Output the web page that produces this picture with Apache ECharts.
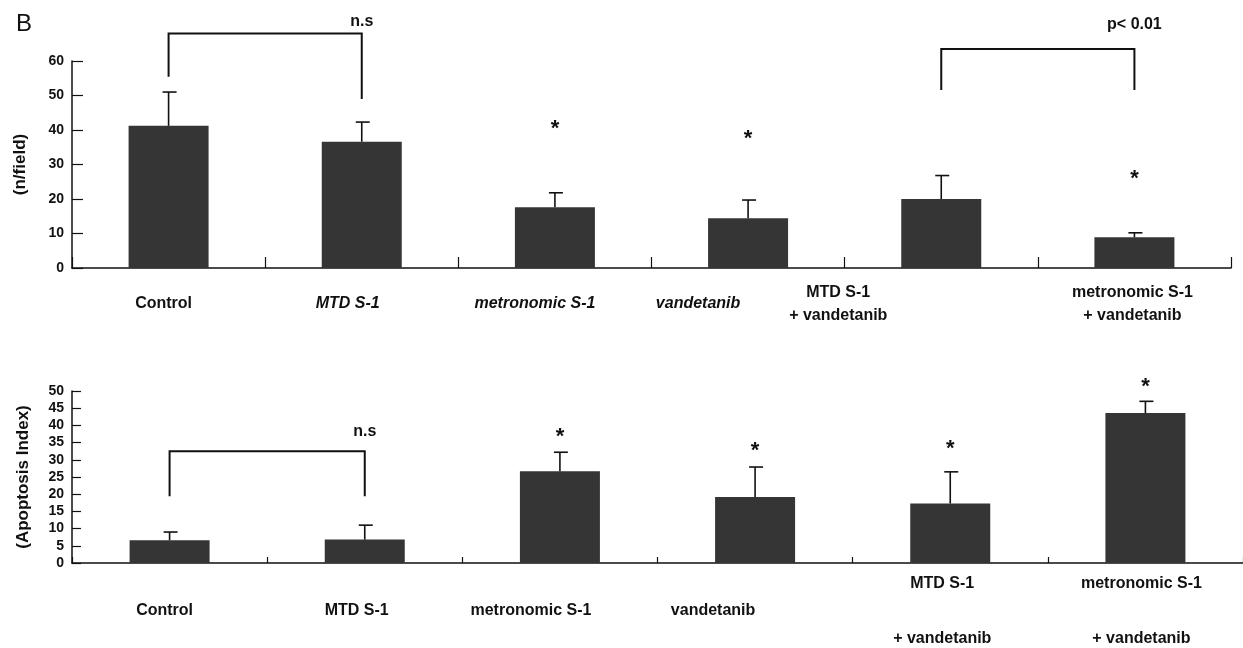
<!DOCTYPE html>
<html>
<head>
<meta charset="utf-8">
<script src="https://cdn.jsdelivr.net/npm/echarts@6/dist/echarts.min.js"></script>
<style>html,body{margin:0;padding:0;background:#fff;}#c{width:1243px;height:648px;}</style>
</head>
<body>
<div id="c"></div>
<script>
// ---------- data ----------
const categories = ['Control', 'MTD S-1', 'metronomic S-1', 'vandetanib', 'MTD S-1\n+ vandetanib', 'metronomic S-1\n+ vandetanib'];
const vesselMean = [41.2, 36.6, 17.6, 14.4, 20.0, 8.9];
const vesselSD = [9.8, 5.7, 4.2, 5.3, 6.8, 1.3];
const vesselStarAt = [null, null, 41.5, 38.5, null, 27];
const apoMean = [6.6, 6.8, 26.7, 19.2, 17.3, 43.6];
const apoSD = [2.4, 4.2, 5.5, 8.7, 9.2, 3.4];
const apoStarAt = [null, null, 37.7, 33.6, 34.2, 52.2];
const vesselBrackets = [
  {a: 0, b: 1, top: 68, legA: 55.4, legB: 49, text: 'n.s', textAt: 71.5},
  {a: 4, b: 5, top: 63.5, legA: 51.6, legB: 51.6, text: 'p< 0.01', textAt: 70.5}
];
const apoBrackets = [
  {a: 0, b: 1, top: 32.5, legA: 19.4, legB: 19.4, text: 'n.s', textAt: 38.3}
];
const vesselAxis = {min: 0, max: 60, interval: 10, name: '(n/field)'};
const apoAxis = {min: 0, max: 50, interval: 5, name: '(Apoptosis Index)'};

// ---------- layout / style ----------
const FONT = '"Liberation Sans", Arial, sans-serif';
const topShift = [-5, -14, -20, -50, -103, -2];
const topItalic = [false, true, true, true, false, false];
const botShift = [-5, -8, -29, -42, -8, -4];
const BAR = '#353535';

function makeRich(shift, italic, lineH) {
  const rich = {};
  shift.forEach((s, i) => {
    rich['c' + i] = {
      fontFamily: FONT, fontWeight: 'bold', fontSize: 16, color: '#111',
      fontStyle: italic && italic[i] ? 'italic' : 'normal',
      lineHeight: lineH,
      padding: s < 0 ? [0, -2 * s, 0, 0] : [0, 0, 0, 2 * s]
    };
  });
  return rich;
}
function fmt(value, index) {
  return value.split('\n').map(l => '{c' + index + '|' + l + '}').join('\n');
}

function errRender(params, api) {
  const i = api.value(0);
  const p0 = api.coord([i, api.value(1)]);
  const p1 = api.coord([i, api.value(2)]);
  const st = {stroke: '#111', lineWidth: 1.6};
  return {type: 'group', children: [
    {type: 'line', shape: {x1: p0[0], y1: p0[1], x2: p1[0], y2: p1[1]}, style: st},
    {type: 'line', shape: {x1: p1[0] - 6, y1: p1[1], x2: p1[0] + 8, y2: p1[1]}, style: st}
  ]};
}
function starRender(params, api) {
  const p = api.coord([api.value(0), api.value(1)]);
  return {type: 'text', style: {text: '*', x: p[0], y: p[1] + 4, align: 'center', verticalAlign: 'middle',
    textAlign: 'center', textVerticalAlign: 'middle', font: 'bold 22px ' + FONT, fill: '#111'}};
}
function bracketRender(list) {
  return function (params, api) {
    const b = list[params.dataIndex];
    const la = api.coord([b.a, b.legA]);
    const ta = api.coord([b.a, b.top]);
    const tb = api.coord([b.b, b.top]);
    const lb = api.coord([b.b, b.legB]);
    const tx = api.coord([(b.a + b.b) / 2, b.textAt]);
    return {type: 'group', children: [
      {type: 'polyline', shape: {points: [la, ta, tb, lb]}, style: {stroke: '#111', lineWidth: 2, fill: null}},
      {type: 'text', style: {text: b.text, x: tx[0], y: tx[1], align: 'center', verticalAlign: 'middle',
        textAlign: 'center', textVerticalAlign: 'middle', font: 'bold 16px ' + FONT, fill: '#111'}}
    ]};
  };
}

const chart = echarts.init(document.getElementById('c'), null, {renderer: 'canvas'});
const axisLine = {show: true, lineStyle: {color: '#111', width: 1.5}};
chart.setOption({
  animation: false,
  backgroundColor: '#fff',
  title: {text: 'B', left: 11, top: 7, textStyle: {fontFamily: FONT, fontWeight: 'normal', fontSize: 24, color: '#111'}},
  grid: [
    {left: 72, top: 61, width: 1159, height: 207},
    {left: 72, top: 391, width: 1175, height: 172}
  ],
  xAxis: [
    {type: 'category', gridIndex: 0, data: categories, axisLine: axisLine,
     axisTick: {show: true, inside: true, length: 11, lineStyle: {color: '#111', width: 1.2}},
     axisLabel: {interval: 0, margin: 36, verticalAlign: 'middle', formatter: fmt, rich: makeRich(topShift, topItalic, 23)}},
    {type: 'category', gridIndex: 1, data: categories, axisLine: axisLine,
     axisTick: {show: true, inside: true, length: 6, lineStyle: {color: '#111', width: 1.2}},
     axisLabel: {interval: 0, margin: 48, verticalAlign: 'middle', formatter: fmt, rich: makeRich(botShift, null, 55)}}
  ],
  yAxis: [
    {type: 'value', gridIndex: 0, min: vesselAxis.min, max: vesselAxis.max, interval: vesselAxis.interval,
     name: vesselAxis.name, nameLocation: 'middle', nameRotate: 90, nameGap: 43,
     nameTextStyle: {fontFamily: FONT, fontWeight: 'bold', fontSize: 17, color: '#111'},
     axisLine: axisLine, splitLine: {show: false},
     axisTick: {show: true, inside: true, length: 11, lineStyle: {color: '#111', width: 1.2}},
     axisLabel: {margin: 8, fontFamily: FONT, fontWeight: 'bold', fontSize: 14, color: '#111'}},
    {type: 'value', gridIndex: 1, min: apoAxis.min, max: apoAxis.max, interval: apoAxis.interval,
     name: apoAxis.name, nameLocation: 'middle', nameRotate: 90, nameGap: 40,
     nameTextStyle: {fontFamily: FONT, fontWeight: 'bold', fontSize: 17, color: '#111'},
     axisLine: axisLine, splitLine: {show: false},
     axisTick: {show: true, inside: true, length: 9, lineStyle: {color: '#111', width: 1.2}},
     axisLabel: {margin: 8, fontFamily: FONT, fontWeight: 'bold', fontSize: 14, color: '#111', lineHeight: 14}}
  ],
  series: [
    {type: 'bar', xAxisIndex: 0, yAxisIndex: 0, data: vesselMean, barWidth: 80, itemStyle: {color: BAR}},
    {type: 'bar', xAxisIndex: 1, yAxisIndex: 1, data: apoMean, barWidth: 80, itemStyle: {color: BAR}},
    {type: 'custom', xAxisIndex: 0, yAxisIndex: 0, clip: false, z: 3, renderItem: errRender,
     data: vesselMean.map((m, i) => [i, m, m + vesselSD[i]])},
    {type: 'custom', xAxisIndex: 1, yAxisIndex: 1, clip: false, z: 3, renderItem: errRender,
     data: apoMean.map((m, i) => [i, m, m + apoSD[i]])},
    {type: 'custom', xAxisIndex: 0, yAxisIndex: 0, clip: false, z: 3, renderItem: starRender,
     data: vesselStarAt.map((v, i) => [i, v]).filter(d => d[1] !== null)},
    {type: 'custom', xAxisIndex: 1, yAxisIndex: 1, clip: false, z: 3, renderItem: starRender,
     data: apoStarAt.map((v, i) => [i, v]).filter(d => d[1] !== null)},
    {type: 'custom', xAxisIndex: 0, yAxisIndex: 0, clip: false, z: 3, renderItem: bracketRender(vesselBrackets),
     data: vesselBrackets.map(b => [b.a, b.top])},
    {type: 'custom', xAxisIndex: 1, yAxisIndex: 1, clip: false, z: 3, renderItem: bracketRender(apoBrackets),
     data: apoBrackets.map(b => [b.a, b.top])}
  ]
});
</script>
</body>
</html>
